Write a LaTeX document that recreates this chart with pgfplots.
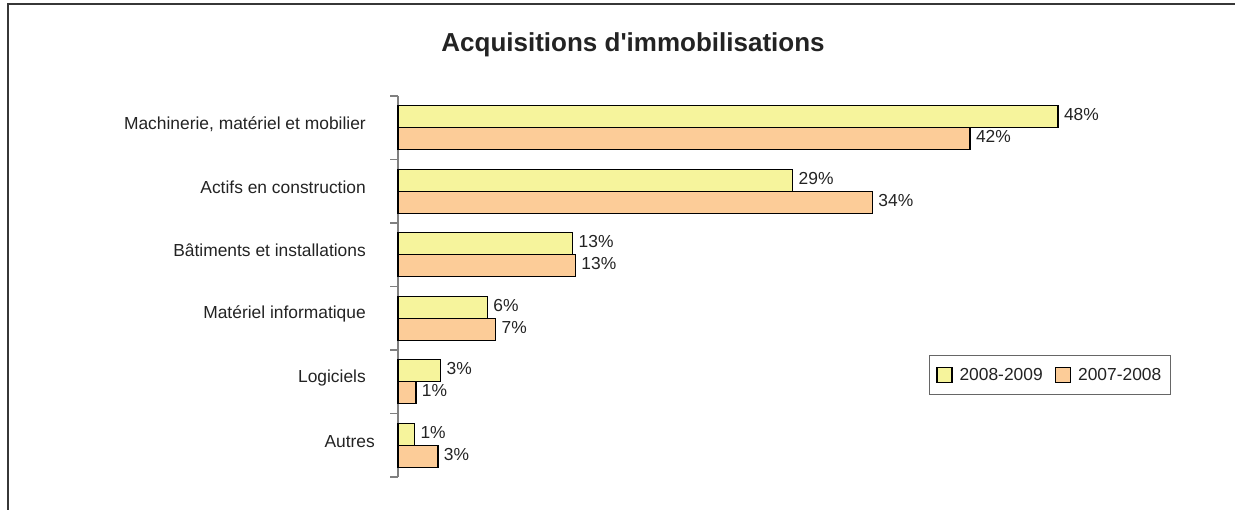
\documentclass[border=0pt]{standalone}
\usepackage{fontspec}
\setmainfont{Liberation Sans}
\usepackage{pgfplots}
\pgfplotsset{compat=1.18}
\definecolor{barY}{RGB}{246,244,156}
\definecolor{barO}{RGB}{252,204,152}
\definecolor{frameC}{RGB}{55,55,55}
\definecolor{txtC}{RGB}{35,35,35}
\newcommand{\lblfont}{\fontsize{17.4bp}{20bp}\selectfont}
\begin{document}
\begin{tikzpicture}[x=1bp,y=1bp]
\useasboundingbox (0,0) rectangle (1235,510);
\draw[frameC, line width=2bp] (7.5,0) -- (7.5,505.5) -- (1235,505.5);
\node[font=\fontsize{26bp}{30bp}\selectfont\bfseries, text=txtC] at (633,465) {Acquisitions d\textquotesingle immobilisations};
\begin{axis}[
  at={(398bp,33bp)}, anchor=south west,
  scale only axis, width=825bp, height=381bp,
  xmin=0, xmax=60, ymin=-0.5, ymax=5.5,
  xbar, bar width=0.3465,
  axis x line=none,
  axis y line*=left,
  axis line style={draw=gray, line width=1.2bp},
  ytick={0,1,2,3,4,5},
  yticklabels={Autres\kern-9bp\relax, Logiciels, Matériel informatique, Bâtiments et installations, Actifs en construction, {Machinerie, matériel et mobilier}},
  major tick length=0pt,
  y tick label style={font=\lblfont, text=txtC, anchor=east, inner sep=0pt, xshift=-32bp, yshift=4bp},
  extra y ticks={-0.5,0.5,1.5,2.5,3.5,4.5,5.5},
  extra y tick labels={},
  extra y tick style={major tick length=8bp, tick align=outside, tick style={draw=gray, line width=1.2bp}},
  clip=false,
  nodes near coords,
  point meta=explicit symbolic,
  every node near coord/.append style={font=\lblfont, text=txtC, anchor=west, xshift=2bp, yshift=2bp},
  legend style={at={(0.790,0.268)}, anchor=center, draw=black!60, line width=1bp, legend columns=2, font=\lblfont, text=txtC, inner xsep=7bp, inner ysep=11bp,
    /tikz/every odd column/.append style={column sep=5bp},
    /tikz/every even column/.append style={column sep=10bp}},
]
\addplot[fill=barY, draw=black, line width=1.4bp, bar shift=0.1733,
  legend image code/.code={\draw[fill=barY, draw=black, line width=1.4bp] (0bp,-7.5bp) rectangle (15bp,7.5bp);}]
  coordinates {(48,5)[48\%] (28.7,4)[29\%] (12.7,3)[13\%] (6.5,2)[6\%] (3.1,1)[3\%] (1.2,0)[1\%]};
\addplot[fill=barO, draw=black, line width=1.4bp, bar shift=-0.1733,
  legend image code/.code={\draw[fill=barO, draw=black, line width=1.4bp] (0bp,-7.5bp) rectangle (15bp,7.5bp);}]
  coordinates {(41.6,5)[42\%] (34.5,4)[34\%] (12.9,3)[13\%] (7.1,2)[7\%] (1.3,1)[1\%] (2.9,0)[3\%]};
\legend{2008-2009, 2007-2008}
\end{axis}
\end{tikzpicture}
\end{document}
